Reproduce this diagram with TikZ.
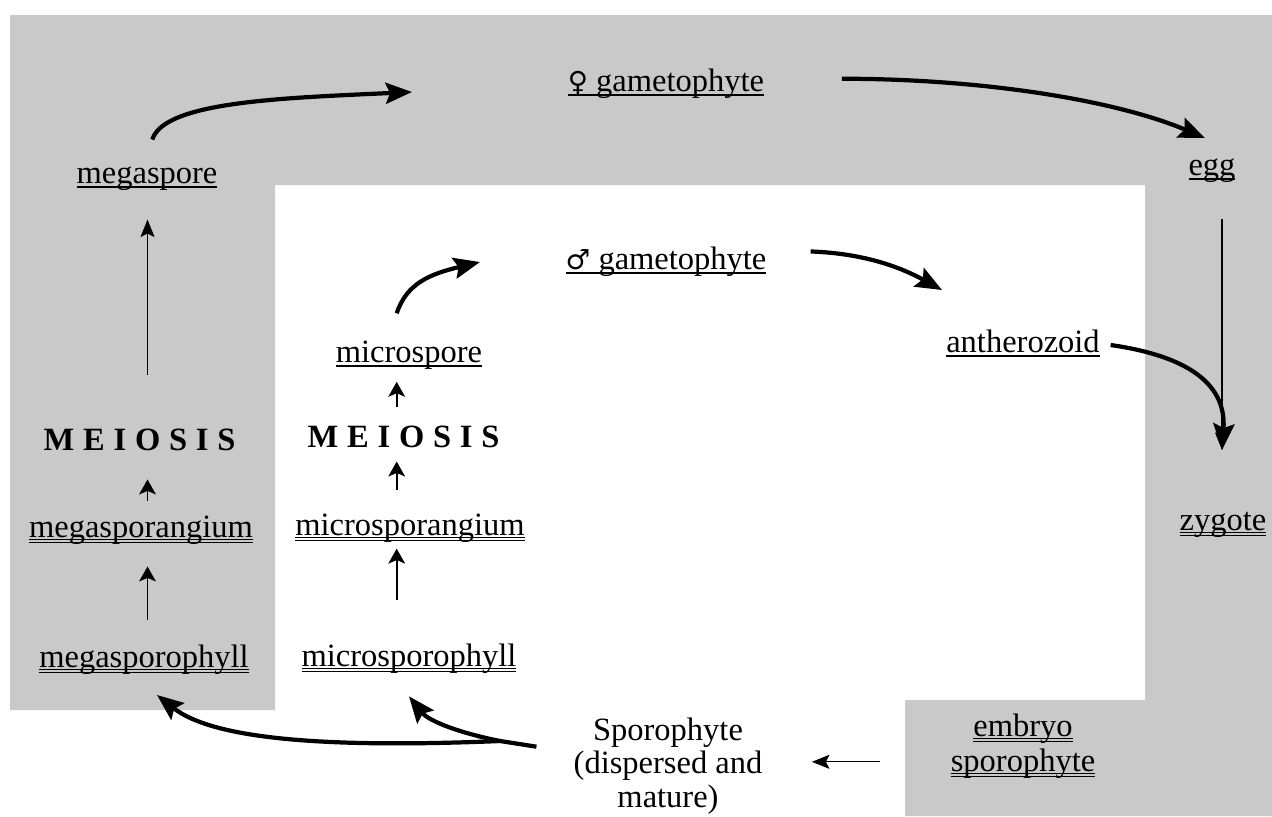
\documentclass[tikz,border=0pt]{standalone}
\usepackage{fontspec}
\setmainfont{Liberation Serif}
\newfontfamily\symfont[Scale=0.85]{DejaVu Sans}
\usetikzlibrary{arrows.meta}
\definecolor{screen}{gray}{0.79}
\newcommand{\sline}[1]{\setbox0\hbox{#1}\rlap{\rule[-2.6pt]{\wd0}{0.7pt}}\box0}
\newcommand{\dline}[1]{\setbox0\hbox{#1}\rlap{\rule[-1.5pt]{\wd0}{0.6pt}}\rlap{\rule[-3.4pt]{\wd0}{0.6pt}}\box0}
\newcommand{\meio}{\textbf{\addfontfeature{LetterSpace=27}MEIOSIS}}

\begin{document}
\begin{tikzpicture}[x=0.02cm, y=-0.02cm,
    lbl/.style={font=\fontsize{18.5}{20}\selectfont, inner sep=0pt, text height=12.6pt, text depth=4.5pt},
    bigarrow/.style={line width=2.4pt, -{Stealth[length=15pt, width=12pt, inset=2.5pt]}},
    shortarrow/.style={line width=1.1pt, -{Stealth[length=8.5pt, width=9.5pt, inset=2pt]}},
    finearrow/.style={line width=0.8pt, -{Stealth[length=10pt, width=8pt, inset=2pt]}}]
    \useasboundingbox (0,0) rectangle (1272,816);
    \fill[screen] (10,15) -- (1272,15) -- (1272,816) -- (905,816) -- (905,700) -- (1145,700) -- (1145,185) -- (275,185) -- (275,710) -- (10,710) -- cycle;

    \node[lbl] (femgam) at (666,84) {\sline{{\symfont ♀} gametophyte}};
    \node[lbl] (egg) at (1212,168) {\sline{egg}};
    \node[lbl] (megaspore) at (147,176) {\sline{megaspore}};
    \node[lbl] (malegam) at (666,262) {\sline{{\symfont ♂} gametophyte}};
    \node[lbl] (anthero) at (1023,345) {\sline{antherozoid}};
    \node[lbl] (microspore) at (409,355) {\sline{microspore}};
    \node[lbl] (meioin) at (408,440) {\meio};
    \node[lbl] (microsporangium) at (410,528) {\dline{microsporangium}};
    \node[lbl] (microsporophyll) at (409,659) {\dline{microsporophyll}};
    \node[lbl] (meioout) at (144,443) {\meio};
    \node[lbl] (megasporangium) at (141,530) {\dline{megasporangium}};
    \node[lbl] (megasporophyll) at (144,660) {\dline{megasporophyll}};
    \node[lbl] (zygote) at (1223,523) {\dline{zygote}};
    \node[font=\fontsize{18.5}{20}\selectfont, inner sep=0pt, align=center] (embryo) at (1023,746) {\dline{embryo}\\\dline{sporophyte}};
    \node[font=\fontsize{18.5}{19}\selectfont, inner sep=0pt, align=center] (sporo) at (668,766) {Sporophyte\\(dispersed and\\mature)};

    \coordinate (mtip) at (412,92);
    \coordinate (etip) at (1205,138);
    \coordinate (ztip) at (1222,450);
    \coordinate (atip) at (942,290);
    \coordinate (gtip) at (480,262);
    \coordinate (fork) at (500,741);
    \coordinate (mgtip) at (157,695);

    \draw[bigarrow] ([xshift=3pt,yshift=12pt]megaspore.north) .. controls +(12,-38) and +(-130,6) .. (mtip);
    \draw[bigarrow] ([xshift=44pt,yshift=3pt]femgam.east) .. controls +(140,0) and +(-90,-38) .. (etip);
    \draw[finearrow, shorten <=20pt] (ztip |- egg.south) -- (ztip);
    \draw[bigarrow] ([xshift=6pt]anthero.east) .. controls +(70,10) and +(5,-70) .. (ztip);
    \draw[bigarrow] ([xshift=25pt,yshift=6pt]malegam.east) .. controls +(55,2) and +(-40,-22) .. (atip);
    \draw[bigarrow] ([xshift=-7pt,yshift=15pt]microspore.north) .. controls +(10,-30) and +(-50,12) .. (gtip);

    \draw[shortarrow, shorten <=25pt, shorten >=3pt] ([xshift=-7pt]microsporophyll.north) -- ([xshift=-7pt]microsporophyll.north |- microsporangium.south);
    \draw[shortarrow, shorten <=13pt, shorten >=3.5pt] ([xshift=-7pt]microsporophyll.north |- microsporangium.north) -- ([xshift=-7pt]microsporophyll.north |- meioin.south);
    \draw[shortarrow, shorten <=10pt, shorten >=6.5pt] ([xshift=-7pt]microsporophyll.north |- meioin.north) -- ([xshift=-7pt]microsporophyll.north |- microspore.south);

    \draw[shortarrow, shorten <=14pt, shorten >=12pt] ([xshift=2pt]megasporophyll.north) -- ([xshift=2pt]megasporophyll.north |- megasporangium.south);
    \draw[shortarrow, shorten <=8pt, shorten >=12pt] ([xshift=2pt]megasporophyll.north |- megasporangium.north) -- ([xshift=2pt]megasporophyll.north |- meioout.south);
    \draw[finearrow, shorten <=30pt, shorten >=16pt] ([xshift=2pt]megasporophyll.north |- meioout.north) -- ([xshift=2pt]megasporophyll.north |- megaspore.south);

    \draw[bigarrow] ([xshift=-21pt,yshift=11pt]sporo.west) -- (fork) .. controls +(-170,7) and +(57,45) .. (mgtip);
    \draw[bigarrow] (fork) .. controls +(-40,-8) and +(20,25) .. ([yshift=-12.5pt]microsporophyll.south);
    \draw[finearrow, line width=0.7pt, shorten <=40pt, shorten >=28pt] ([yshift=-9pt]embryo.west) -- ([yshift=-9pt]embryo.west -| sporo.east);
\end{tikzpicture}
\end{document}
